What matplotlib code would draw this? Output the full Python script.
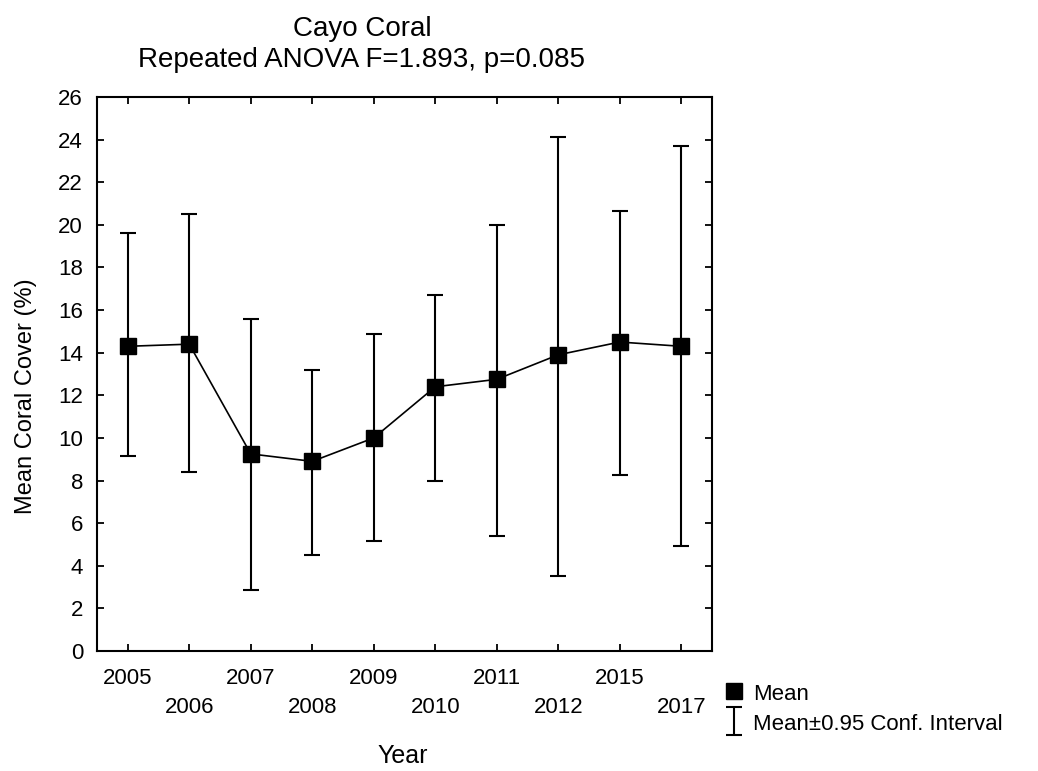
import matplotlib
matplotlib.use("Agg")
import matplotlib.pyplot as plt
from matplotlib.container import ErrorbarContainer
from matplotlib.legend_handler import HandlerErrorbar
import numpy as np

years = ["2005", "2006", "2007", "2008", "2009", "2010", "2011", "2012", "2015", "2017"]
mean_cover = [14.3, 14.4, 9.25, 8.9, 10.0, 12.4, 12.75, 13.9, 14.5, 14.3]
ci_upper = [19.6, 20.5, 15.6, 13.2, 14.9, 16.7, 20.0, 24.1, 20.65, 23.7]
ci_lower = [9.15, 8.4, 2.86, 4.5, 5.16, 8.0, 5.4, 3.5, 8.26, 4.93]

plt.rcParams['font.family'] = ['Liberation Sans', 'DejaVu Sans']

W, H = 1038, 771
fig = plt.figure(figsize=(W / 100, H / 100), dpi=100)
# axes box in pixels: x 97..712, y 97..651
ax = fig.add_axes([97 / W, 1 - 651 / H, 615 / W, 554 / H])

x = np.arange(len(years))
mean_arr = np.array(mean_cover)
yerr = [mean_arr - np.array(ci_lower), np.array(ci_upper) - mean_arr]

ax.plot(x, mean_cover, color='black', lw=1.2, zorder=2)
eb = ax.errorbar(x, mean_cover, yerr=yerr, fmt='none', ecolor='black',
                 elinewidth=1.5, capsize=5.5, capthick=1.5, zorder=1)
mk, = ax.plot(x, mean_cover, 's', color='black', markersize=11.5, linestyle='none', zorder=3)

ax.set_xlim(-0.5, len(years) - 0.5)
ax.set_ylim(0, 26)
ax.set_yticks(np.arange(0, 27, 2))
ax.set_xticks(x)
# staggered year labels, odd ones on a second row
labels = [y if i % 2 == 0 else "\n" + y for i, y in enumerate(years)]
ax.set_xticklabels(labels, fontsize=16, linespacing=1.55)
ax.tick_params(axis='y', labelsize=16, pad=10)
ax.tick_params(axis='x', pad=12)
ax.tick_params(direction='in', top=True, right=True, length=5, width=1.3)
for s in ax.spines.values():
    s.set_linewidth(1.5)

ax.set_ylabel("Mean Coral Cover (%)", fontsize=17, va='center')
ax.yaxis.set_label_coords(-0.115, 0.46)
ax.set_xlabel("Year", fontsize=18, va='baseline')
ax.xaxis.set_label_coords(0.497, -0.202)

fig.text(362 / W, 1 - 36 / H, "Cayo Coral", fontsize=20, ha='center', va='baseline')
fig.text(362 / W, 1 - 67 / H, "Repeated ANOVA F=1.893, p=0.085", fontsize=20,
         ha='center', va='baseline')

fig.legend([mk, eb], ["Mean", "Mean\u00b10.95 Conf. Interval"],
           loc='upper left', bbox_to_anchor=(725 / W, 1 - 682 / H), frameon=False,
           fontsize=16, handlelength=0.8, handleheight=1.0, handletextpad=0.45,
           labelspacing=0.35, borderaxespad=0, borderpad=0,
           handler_map={ErrorbarContainer: HandlerErrorbar(yerr_size=0.62)})

fig.savefig("out.png", dpi=100)
